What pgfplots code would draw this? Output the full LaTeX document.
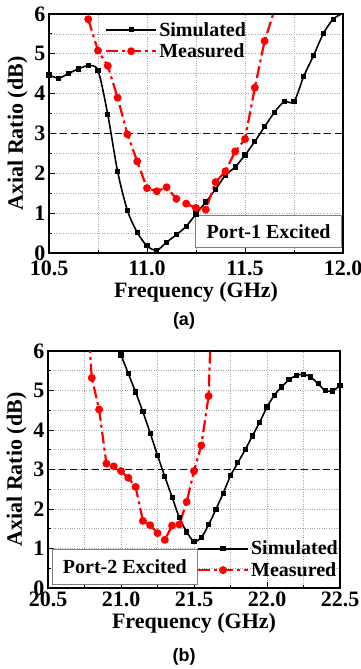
\documentclass[border=0pt]{standalone}
\usepackage{fontspec}
\setmainfont{Liberation Serif}
\newfontfamily\capfont{Liberation Sans}
\usepackage{pgfplots}
\pgfplotsset{compat=1.18}
\definecolor{navyb}{RGB}{0,0,140}
\begin{document}
\begin{tikzpicture}
\useasboundingbox (0,0) rectangle (361pt,-669pt);
\pgfplotsset{
 myax/.style={
  scale only axis,
  axis line style={line width=1.3pt},
  tick pos=left,
  tick align=inside,
  major tick length=6pt, minor tick length=3pt,
  every tick/.style={black, line width=1pt},
  minor x tick num=1, minor y tick num=1,
  grid=both,
  grid style={dotted, gray!70, line width=0.8pt},
  ymin=0, ymax=6, ytick={0,1,2,3,4,5,6},
  /pgf/number format/assume math mode=true,
  tick label style={font=\fontsize{22}{22}\selectfont\bfseries},
  xticklabel style={/pgf/number format/fixed, /pgf/number format/fixed zerofill, /pgf/number format/precision=1},
  label style={font=\fontsize{22}{24}\selectfont\bfseries},
  xlabel={Frequency (GHz)},
  ylabel={Axial Ratio (dB)},
  legend cell align=left,
  legend style={draw=none, fill=none, font=\fontsize{20}{24}\selectfont\bfseries, inner sep=0pt, row sep=2pt},
  legend image code/.code={\draw[mark repeat=2,mark phase=2,##1] plot coordinates {(0pt,0pt) (25pt,0pt) (50pt,0pt)};},
 },
 sim/.style={black, line width=1.6pt, mark=square*, mark size=1.8pt, smooth},
 meas/.style={red, line width=2.2pt, dash pattern=on 12pt off 4pt on 3pt off 4pt, mark=*, mark size=2.8pt, mark options={solid}},
 ref3/.style={navyb, line width=1.6pt, dash pattern=on 7pt off 4pt},
}
% ---------- (a) ----------
\begin{axis}[myax, at={(49pt,-253pt)}, anchor=south west, width=294pt, height=239pt,
  xmin=10.5, xmax=12, xtick={10.5,11,11.5,12},
  xticklabel style={yshift=-4pt},
  legend style={at={(0.19,0.975)}, anchor=north west}]
\addplot[ref3, forget plot] coordinates {(10.5,3) (12,3)};
\addplot[sim] coordinates {(10.50,4.47)(10.55,4.39)(10.60,4.51)(10.65,4.62)(10.70,4.70)(10.75,4.58)(10.80,3.47)(10.85,2.05)(10.90,1.07)(10.95,0.52)(11.00,0.18)(11.05,0.07)(11.10,0.27)(11.15,0.46)(11.20,0.67)(11.25,0.98)(11.30,1.28)(11.35,1.60)(11.40,1.95)(11.45,2.16)(11.50,2.46)(11.55,2.80)(11.60,3.17)(11.65,3.53)(11.70,3.80)(11.75,3.80)(11.80,4.44)(11.85,4.96)(11.90,5.51)(11.95,5.87)(12.00,6.02)};
\addlegendentry{Simulated}
\addplot[meas] coordinates {(10.70,5.87)(10.75,5.08)(10.80,4.70)(10.85,3.90)(10.90,2.98)(10.95,2.30)(11.00,1.63)(11.05,1.55)(11.10,1.65)(11.15,1.36)(11.20,1.24)(11.25,1.13)(11.30,1.09)(11.35,1.78)(11.40,2.05)(11.45,2.55)(11.50,2.86)(11.55,4.15)(11.60,5.32)(11.65,6.10)};
\addlegendentry{Measured}
\node[draw=gray, line width=0.8pt, fill=white, minimum width=146pt, minimum height=32pt, anchor=south east, xshift=-1pt, yshift=5pt, font=\fontsize{20}{20}\selectfont\bfseries] at (rel axis cs:1,0) {Port-1 Excited};
\end{axis}
% ---------- (b) ----------
\begin{axis}[myax, at={(48pt,-588pt)}, anchor=south west, width=292pt, height=237pt,
  xmin=20.5, xmax=22.5, xtick={20.5,21,21.5,22,22.5},
  legend style={at={(1,0)}, anchor=south east, xshift=0pt, yshift=8pt}]
\addplot[ref3, forget plot] coordinates {(20.5,3) (22.5,3)};
\addplot[sim] coordinates {(20.95,6.40)(21.00,5.90)(21.05,5.43)(21.10,4.96)(21.15,4.46)(21.20,3.92)(21.25,3.36)(21.30,2.82)(21.35,2.30)(21.40,1.78)(21.45,1.42)(21.50,1.18)(21.55,1.28)(21.60,1.60)(21.65,1.99)(21.70,2.40)(21.75,2.84)(21.80,3.17)(21.85,3.50)(21.90,3.85)(21.95,4.20)(22.00,4.58)(22.05,4.88)(22.10,5.09)(22.15,5.27)(22.20,5.38)(22.25,5.41)(22.30,5.34)(22.35,5.17)(22.40,5.00)(22.45,4.99)(22.50,5.13)};
\addlegendentry{Simulated}
\addplot[meas] coordinates {(20.75,8.0)(20.80,5.32)(20.85,4.52)(20.90,3.15)(20.95,3.08)(21.00,2.96)(21.05,2.79)(21.10,2.56)(21.15,1.70)(21.20,1.59)(21.25,1.39)(21.30,1.22)(21.35,1.58)(21.40,1.61)(21.45,2.18)(21.50,2.96)(21.55,3.61)(21.60,4.86)(21.65,10.5)};
\addlegendentry{Measured}
\node[draw=gray, line width=0.8pt, fill=white, minimum width=145pt, minimum height=35pt, anchor=south west, xshift=4pt, yshift=3pt, font=\fontsize{20}{20}\selectfont\bfseries] at (rel axis cs:0,0) {Port-2 Excited};
\end{axis}
\node[font=\capfont\bfseries\fontsize{18}{18}\selectfont] at (184pt,-321pt) {(a)};
\node[font=\capfont\bfseries\fontsize{18}{18}\selectfont] at (184pt,-657pt) {(b)};
\end{tikzpicture}
\end{document}
